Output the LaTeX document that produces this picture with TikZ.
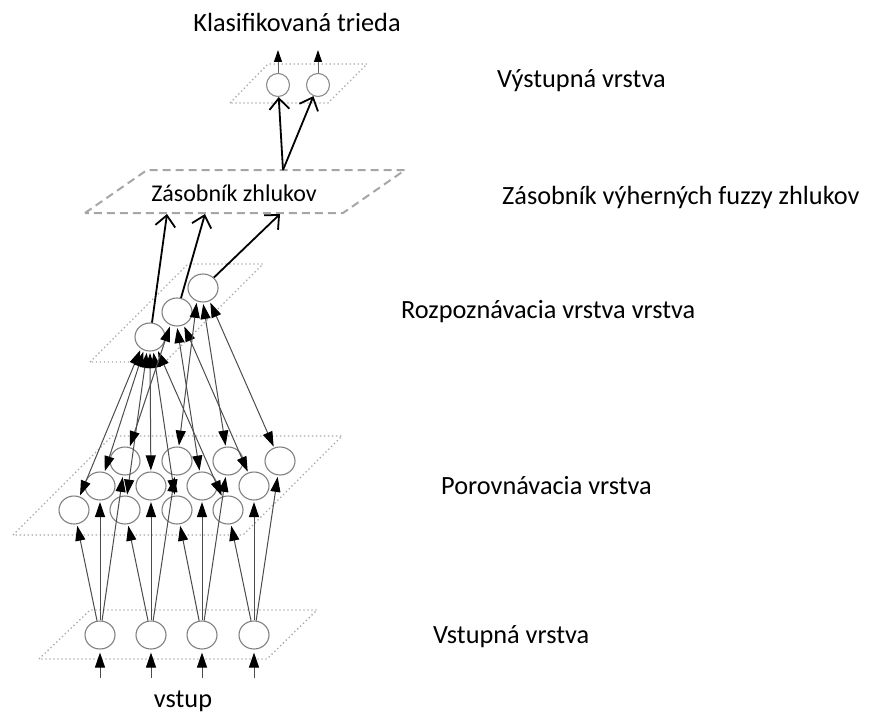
\documentclass[tikz,border=0pt]{standalone}
\usepackage{fontspec}
\setmainfont{Carlito}
\usetikzlibrary{arrows.meta,shapes.geometric}

\begin{document}
\begin{tikzpicture}[x=1pt,y=-1pt,
  plane/.style={draw=black!35, line width=1.3pt, dash pattern=on 1.3pt off 2.7pt},
  poolplane/.style={draw=black!35, line width=2pt, dash pattern=on 8pt off 5pt},
  unit/.style={ellipse, draw=black!50, line width=1.1pt, minimum width=30pt,
    minimum height=28pt, inner sep=0pt},
  outunit/.style={circle, draw=black!45, line width=1.1pt, minimum size=23pt, inner sep=0pt},
  link/.style={draw=black!70, line width=1pt, shorten >=1.5pt,
    -{Triangle[length=15pt,width=10pt,color=black]}},
  dlink/.style={draw=black!70, line width=1pt, shorten >=1.5pt, shorten <=1pt,
    {Triangle[length=15pt,width=10pt,color=black]}-{Triangle[length=15pt,width=10pt,color=black]}},
  outlink/.style={draw=black!60, line width=1pt,
    -{Triangle[length=12pt,width=8pt,color=black]}},
  bold/.style={draw=black, line width=1.8pt, -{Straight Barb[length=11pt,width=20pt]}},
  lbl/.style={font=\fontsize{26.3}{30}\selectfont, inner sep=0pt, anchor=base west},
]
\useasboundingbox (0,0) rectangle (872,717);

% layer planes
\draw[plane] (230,103) -- (268,64) -- (367,64) -- (328,103) -- cycle;
\draw[poolplane] (85,213) -- (147,170) -- (405,170) -- (343,213) -- cycle;
\draw[plane] (90,362) -- (188,264) -- (263,264) -- (165,362) -- cycle;
\draw[plane] (13,535) -- (112,436) -- (342,436) -- (243,535) -- cycle;
\draw[plane] (39,659) -- (90,610) -- (317,610) -- (267,659) -- cycle;

% input layer
\foreach \n/\x in {0/100,1/151,2/202,3/254}
  \node[unit] (I\n) at (\x,635) {};
% comparison layer, three rows of four units
\foreach \n/\x in {a/74,b/125,c/177,d/228}
  \node[unit] (C1\n) at (\x,510) {};
\foreach \n/\x in {a/100,b/151,c/202,d/254}
  \node[unit] (C2\n) at (\x,486) {};
\foreach \n/\x in {a/125,b/177,c/228,d/280}
  \node[unit] (C3\n) at (\x,461) {};
% recognition layer
\node[unit] (R1) at (150,337) {};
\node[unit] (R2) at (177,312) {};
\node[unit] (R3) at (203,288) {};
% output layer
\node[outunit] (O1) at (278,85) {};
\node[outunit] (O2) at (318,85) {};

% pool of winning clusters
\node[font=\fontsize{24}{28}\selectfont, inner sep=0pt, anchor=base] (pool) at (234,201) {Zásobník zhlukov};
\coordinate (pa) at (167,214);
\coordinate (pb) at (205,214);
\coordinate (pc) at (280,214);
\coordinate (ps) at (283,170);

% inputs
\foreach \n/\x in {0/100,1/151,2/202,3/254} {
  \coordinate (in\n) at (\x,678);
  \draw[link, shorten >=3pt] (in\n) -- (I\n);
}

% input -> comparison
\foreach \n/\c in {0/a,1/b,2/c,3/d} {
  \draw[link] (I\n) -- (C1\c);
  \draw[link] (I\n) -- (C2\c);
  \draw[link] (I\n) -- (C3\c);
}

% comparison <-> recognition, spread along the lower rim of each unit
\foreach \c/\a in {C1a/232,C2a/245,C1b/258,C2b/270,C1c/283,C1d/300}
  \draw[dlink] (\c) -- (R1.\a);
\foreach \c/\a in {C3a/243,C2c/270,C2d/297}
  \draw[dlink] (\c) -- (R2.\a);
\foreach \c/\a in {C3b/245,C3c/270,C3d/297}
  \draw[dlink] (\c) -- (R3.\a);

% recognition -> pool -> output
\draw[bold] (R1) -- (pa);
\draw[bold] (R2) -- (pb);
\draw[bold] (R3) -- (pc);
\draw[bold] (ps) -- (O1);
\draw[bold] (ps) -- (O2);

% class outputs
\coordinate (o1) at (278,50);
\coordinate (o2) at (318,50);
\draw[outlink] (O1) -- (o1);
\draw[outlink] (O2) -- (o2);

% labels
\node[font=\fontsize{26.3}{30}\selectfont, inner sep=0pt, anchor=base] (title) at (297,32) {Klasifikovaná trieda};
\node[font=\fontsize{26.3}{30}\selectfont, inner sep=0pt, anchor=base] (vin) at (183,707) {vstup};
\node[lbl] (lout) at (497,88) {Výstupná vrstva};
\node[lbl] (lpool) at (502,204) {Zásobník výherných fuzzy zhlukov};
\node[lbl] (lrec) at (401,318) {Rozpoznávacia vrstva vrstva};
\node[lbl] (lcmp) at (441,494) {Porovnávacia vrstva};
\node[lbl] (lin) at (433,643) {Vstupná vrstva};
\end{tikzpicture}
\end{document}
